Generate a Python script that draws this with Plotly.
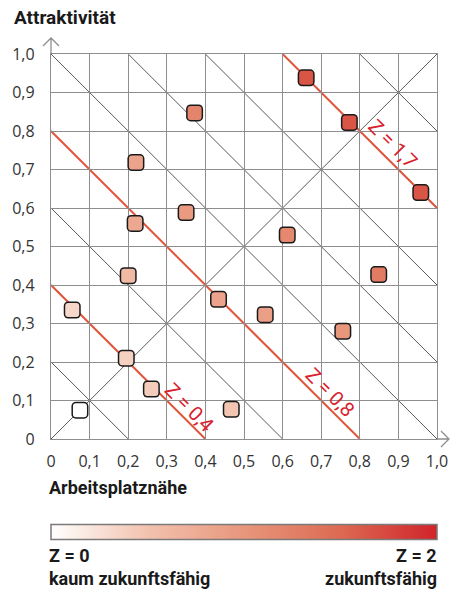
import plotly.graph_objects as go

# ---- data ----
x_vals = [0.075, 0.055, 0.195, 0.26, 0.467, 0.2, 0.218, 0.22, 0.35, 0.372,
          0.434, 0.555, 0.612, 0.756, 0.849, 0.661, 0.773, 0.958]
y_vals = [0.075, 0.335, 0.21, 0.13, 0.077, 0.424, 0.56, 0.718, 0.588, 0.847,
          0.363, 0.323, 0.53, 0.28, 0.427, 0.938, 0.822, 0.64]
z_vals = [0.0, 0.33, 0.38, 0.42, 0.48, 0.6, 0.8, 0.85, 0.95, 1.2,
          0.85, 0.9, 1.15, 1.0, 1.3, 1.65, 1.65, 1.65]

tick_vals = [0, 0.1, 0.2, 0.3, 0.4, 0.5, 0.6, 0.7, 0.8, 0.9, 1.0]
tick_text = ["0", "0,1", "0,2", "0,3", "0,4", "0,5", "0,6", "0,7", "0,8", "0,9", "1,0"]

grey_iso = [0.2, 0.6, 1.0, 1.2, 1.4, 1.8]     # x + y = c (grey helper lines)
red_iso = [0.4, 0.8, 1.6]                     # highlighted iso lines
red_labels = ["Z = 0,4", "Z = 0,8", "Z = 1,7"]

colorscale = [[0.0, "#ffffff"], [0.25, "#f2c2ae"], [0.5, "#e8967c"],
              [0.75, "#dc6a52"], [1.0, "#d1232a"]]

GRID = "#8e8e8e"
DIAG = "#5a5a5a"
RED_LINE = "#e0553c"
RED_TEXT = "#d8222e"

# label placement along each red line (x of foot point, perpendicular shift px)
label_place = [(0.337, 8), (0.70, 9), (0.86, 10)]


def seg(c):
    """endpoints of x + y = c clipped to the unit square"""
    x0 = max(0.0, c - 1.0)
    x1 = min(1.0, c)
    return x0, c - x0, x1, c - x1


shapes = []
for c in grey_iso:
    a, b, cc, d = seg(c)
    shapes.append(dict(type="line", xref="x", yref="y", x0=a, y0=b, x1=cc, y1=d,
                       line=dict(color=DIAG, width=1), layer="below"))
# y = x diagonal
shapes.append(dict(type="line", xref="x", yref="y", x0=0, y0=0, x1=1, y1=1,
                   line=dict(color=DIAG, width=1), layer="below"))
for c in red_iso:
    a, b, cc, d = seg(c)
    shapes.append(dict(type="line", xref="x", yref="y", x0=a, y0=b, x1=cc, y1=d,
                       line=dict(color=RED_LINE, width=2), layer="below"))

# axis extensions with open arrow heads
shapes.append(dict(type="path", xref="paper", yref="paper", xsizemode="pixel",
                   ysizemode="pixel", xanchor=0, yanchor=1,
                   path="M0,0 L0,16 M-8,8 L0,16 L8,8",
                   line=dict(color=GRID, width=1.3)))
shapes.append(dict(type="path", xref="paper", yref="paper", xsizemode="pixel",
                   ysizemode="pixel", xanchor=1, yanchor=0,
                   path="M0,0 L12,0 M4,8 L12,0 L4,-8",
                   line=dict(color=GRID, width=1.3)))

fig = go.Figure()

# black outline layer (rounded through round line joins)
fig.add_trace(go.Scatter(
    x=x_vals, y=y_vals, mode="markers", hoverinfo="skip", showlegend=False,
    marker=dict(symbol="square", size=8, color="#1a1a1a",
                line=dict(color="#1a1a1a", width=9)),
))
# coloured fill layer
fig.add_trace(go.Scatter(
    x=x_vals, y=y_vals, mode="markers", showlegend=False,
    marker=dict(symbol="square", size=8, color=z_vals, colorscale=colorscale,
                cmin=0, cmax=2, showscale=True,
                line=dict(color=z_vals, colorscale=colorscale, cmin=0, cmax=2, width=6),
                colorbar=dict(orientation="h", x=0, xanchor="left", xref="paper",
                              y=(439 - 541) / 385, yanchor="bottom", yref="paper",
                              lenmode="pixels", len=386, thickness=15,
                              xpad=0, ypad=0, showticklabels=False, ticks="",
                              outlinecolor="#7a7a7a", outlinewidth=1.5)),
))

font_fam = "Roboto, 'Open Sans', sans-serif"
annotations = []
for lbl, (lx, sh), c in zip(red_labels, label_place, red_iso):
    annotations.append(dict(x=lx, y=c - lx, xref="x", yref="y", text=lbl,
                            showarrow=False, textangle=45, xshift=sh, yshift=sh,
                            font=dict(family="Roboto, sans-serif", size=20, color=RED_TEXT)))

def ppy(py):
    return (439 - py) / 385

def ppx(px):
    return (px - 51) / 386

bold = dict(family=font_fam, size=18, color="#1a1a1a", weight="bold")
title_font = dict(bold, size=19)
annotations += [
    dict(x=ppx(12), y=ppy(18), xref="paper", yref="paper", text="Attraktivität",
         showarrow=False, xanchor="left", yanchor="middle", font=title_font),
    dict(x=ppx(47), y=ppy(487), xref="paper", yref="paper", text="Arbeitsplatznähe",
         showarrow=False, xanchor="left", yanchor="middle", font=bold),
    dict(x=ppx(47), y=ppy(555), xref="paper", yref="paper", text="Z = 0",
         showarrow=False, xanchor="left", yanchor="middle", font=bold),
    dict(x=ppx(47), y=ppy(578), xref="paper", yref="paper", text="kaum zukunftsfähig",
         showarrow=False, xanchor="left", yanchor="middle", font=bold),
    dict(x=ppx(439), y=ppy(555), xref="paper", yref="paper", text="Z = 2",
         showarrow=False, xanchor="right", yanchor="middle", font=bold),
    dict(x=ppx(439), y=ppy(578), xref="paper", yref="paper", text="zukunftsfähig",
         showarrow=False, xanchor="right", yanchor="middle", font=bold),
]

axis_common = dict(range=[0, 1], tickvals=tick_vals, ticktext=tick_text,
                   showgrid=True, gridcolor=GRID, gridwidth=1.3,
                   showline=True, linecolor=GRID, linewidth=1.3, mirror=True,
                   zeroline=False, ticks="outside", tickcolor="rgba(0,0,0,0)",
                   tickfont=dict(family="'Open Sans', sans-serif", size=16,
                                 color="#333333"),
                   automargin=False, fixedrange=True)

fig.update_layout(
    width=451, height=592,
    margin=dict(l=51, r=14, t=54, b=153, autoexpand=False),
    paper_bgcolor="white", plot_bgcolor="white",
    xaxis=dict(axis_common, ticklen=8),
    yaxis=dict(axis_common, ticklen=12),
    shapes=shapes, annotations=annotations,
)

post = ("document.body.style.margin='0';document.body.style.padding='0';"
        "document.body.style.overflow='hidden';"
        "var s=document.createElement('style');"
        "s.innerHTML='body{margin:0 !important;} .scatterlayer .point{stroke-linejoin:round;}';"
        "document.head.appendChild(s);")
fig.write_html("out.html", post_script=post, config={"displayModeBar": False})
